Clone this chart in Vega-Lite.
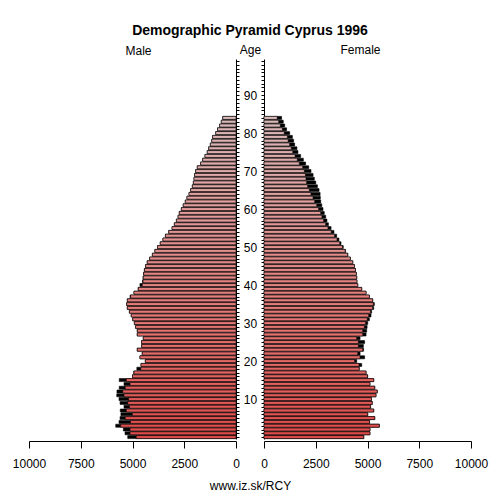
{
  "$schema": "https://vega.github.io/schema/vega-lite/v6.json",
  "background": "white",
  "padding": {"left": 12, "top": 23, "right": 16, "bottom": 2},
  "title": {
    "text": "Demographic Pyramid Cyprus 1996",
    "font": "Liberation Sans",
    "fontSize": 14,
    "fontWeight": "bold",
    "color": "black",
    "anchor": "middle",
    "offset": 6
  },
  "bounds": "flush",
  "spacing": 28,
  "data": {
    "values": [
      {"age": 0, "male": 5230, "female": 4820},
      {"age": 1, "male": 5360, "female": 5120},
      {"age": 2, "male": 5440, "female": 5120},
      {"age": 3, "male": 5810, "female": 5570},
      {"age": 4, "male": 5650, "female": 5100},
      {"age": 5, "male": 5600, "female": 5350},
      {"age": 6, "male": 5560, "female": 5010},
      {"age": 7, "male": 5590, "female": 5300},
      {"age": 8, "male": 5410, "female": 5150},
      {"age": 9, "male": 5600, "female": 5230},
      {"age": 10, "male": 5650, "female": 5190},
      {"age": 11, "male": 5760, "female": 5410},
      {"age": 12, "male": 5750, "female": 5470},
      {"age": 13, "male": 5640, "female": 5350},
      {"age": 14, "male": 5410, "female": 5120},
      {"age": 15, "male": 5640, "female": 5300},
      {"age": 16, "male": 5000, "female": 5010},
      {"age": 17, "male": 4940, "female": 4930},
      {"age": 18, "male": 4790, "female": 4600},
      {"age": 19, "male": 4590, "female": 4720},
      {"age": 20, "male": 4380, "female": 4480},
      {"age": 21, "male": 4640, "female": 4860},
      {"age": 22, "male": 4530, "female": 4640},
      {"age": 23, "male": 4770, "female": 4810},
      {"age": 24, "male": 4560, "female": 4800},
      {"age": 25, "male": 4560, "female": 4860},
      {"age": 26, "male": 4480, "female": 4640},
      {"age": 27, "male": 4770, "female": 4930},
      {"age": 28, "male": 4770, "female": 4960},
      {"age": 29, "male": 4850, "female": 4980},
      {"age": 30, "male": 4910, "female": 5010},
      {"age": 31, "male": 4990, "female": 5090},
      {"age": 32, "male": 5060, "female": 5170},
      {"age": 33, "male": 5150, "female": 5200},
      {"age": 34, "male": 5250, "female": 5300},
      {"age": 35, "male": 5280, "female": 5330},
      {"age": 36, "male": 5250, "female": 5250},
      {"age": 37, "male": 5120, "female": 5090},
      {"age": 38, "male": 4930, "female": 4930},
      {"age": 39, "male": 4730, "female": 4720},
      {"age": 40, "male": 4640, "female": 4530},
      {"age": 41, "male": 4520, "female": 4490},
      {"age": 42, "male": 4490, "female": 4480},
      {"age": 43, "male": 4470, "female": 4460},
      {"age": 44, "male": 4430, "female": 4420},
      {"age": 45, "male": 4370, "female": 4370},
      {"age": 46, "male": 4290, "female": 4290},
      {"age": 47, "male": 4170, "female": 4170},
      {"age": 48, "male": 4040, "female": 4050},
      {"age": 49, "male": 3920, "female": 3940},
      {"age": 50, "male": 3790, "female": 3830},
      {"age": 51, "male": 3660, "female": 3720},
      {"age": 52, "male": 3530, "female": 3620},
      {"age": 53, "male": 3410, "female": 3510},
      {"age": 54, "male": 3250, "female": 3380},
      {"age": 55, "male": 3090, "female": 3240},
      {"age": 56, "male": 2980, "female": 3110},
      {"age": 57, "male": 2880, "female": 3040},
      {"age": 58, "male": 2800, "female": 2980},
      {"age": 59, "male": 2740, "female": 2910},
      {"age": 60, "male": 2640, "female": 2850},
      {"age": 61, "male": 2550, "female": 2790},
      {"age": 62, "male": 2450, "female": 2740},
      {"age": 63, "male": 2370, "female": 2720},
      {"age": 64, "male": 2270, "female": 2710},
      {"age": 65, "male": 2190, "female": 2660},
      {"age": 66, "male": 2110, "female": 2580},
      {"age": 67, "male": 2060, "female": 2500},
      {"age": 68, "male": 2030, "female": 2430},
      {"age": 69, "male": 2000, "female": 2370},
      {"age": 70, "male": 1950, "female": 2270},
      {"age": 71, "male": 1870, "female": 2160},
      {"age": 72, "male": 1710, "female": 2010},
      {"age": 73, "male": 1610, "female": 1900},
      {"age": 74, "male": 1500, "female": 1770},
      {"age": 75, "male": 1390, "female": 1640},
      {"age": 76, "male": 1320, "female": 1590},
      {"age": 77, "male": 1240, "female": 1480},
      {"age": 78, "male": 1170, "female": 1430},
      {"age": 79, "male": 1130, "female": 1370},
      {"age": 80, "male": 980, "female": 1240},
      {"age": 81, "male": 890, "female": 1090},
      {"age": 82, "male": 790, "female": 1000},
      {"age": 83, "male": 710, "female": 930},
      {"age": 84, "male": 640, "female": 850}
    ]
  },
  "hconcat": [
    {
      "width": 207,
      "height": 380,
      "title": {"text": "Male", "fontSize": 12, "fontWeight": "normal", "anchor": "middle", "dx": 6, "offset": -14, "color": "black"},
      "encoding": {
        "y": {
          "field": "age",
          "type": "quantitative",
          "scale": {"domain": [-0.5, 99.5], "nice": false, "zero": false, "padding": 0},
          "axis": {
            "orient": "right",
            "values": [0,1,2,3,4,5,6,7,8,9,10,11,12,13,14,15,16,17,18,19,20,21,22,23,24,25,26,27,28,29,30,31,32,33,34,35,36,37,38,39,40,41,42,43,44,45,46,47,48,49,50,51,52,53,54,55,56,57,58,59,60,61,62,63,64,65,66,67,68,69,70,71,72,73,74,75,76,77,78,79,80,81,82,83,84,85,86,87,88,89,90,91,92,93,94,95,96,97,98,99],
            "labelExpr": "datum.value % 10 == 0 && datum.value > 0 ? datum.value : ''",
            "tickSize": 3,
            "labelAlign": "center",
            "labelPadding": 11,
            "labelOverlap": false,
            "labelFlush": false,
            "grid": false,
            "title": "Age",
            "titleAngle": 0,
            "titleX": 14,
            "titleY": -5.5,
            "titleAlign": "center",
            "titleBaseline": "alphabetic",
            "titleFontWeight": "normal",
            "titleFontSize": 12
          }
        }
      },
      "layer": [
        {
          "mark": {"type": "bar", "orient": "horizontal", "height": 3, "fill": "black", "stroke": "black", "strokeWidth": 0.6},
          "encoding": {
            "x": {"field": "male", "type": "quantitative", "scale": {"domain": [0, 10000], "reverse": true, "nice": false},
              "axis": {"values": [0, 2500, 5000, 7500, 10000], "format": "d", "tickSize": 7, "offset": 2, "grid": false, "labelFlush": false, "labelPadding": 10,
                "title": "www.iz.sk/RCY", "titleX": 221, "titleY": 48, "titleAlign": "center", "titleBaseline": "alphabetic", "titleFontWeight": "normal", "titleFontSize": 12}}
          }
        },
        {
          "transform": [{"filter": "datum.female <= datum.male"}],
          "mark": {"type": "bar", "orient": "horizontal", "height": 3, "stroke": "black", "strokeWidth": 0.6},
          "encoding": {
            "x": {"field": "female", "type": "quantitative", "scale": {"domain": [0, 10000], "reverse": true, "nice": false},
              "axis": {"values": [0, 2500, 5000, 7500, 10000], "format": "d", "tickSize": 7, "offset": 2, "grid": false, "labelFlush": false, "labelPadding": 10,
                "title": "www.iz.sk/RCY", "titleX": 221, "titleY": 48, "titleAlign": "center", "titleBaseline": "alphabetic", "titleFontWeight": "normal", "titleFontSize": 12}},
            "color": {"field": "age", "type": "quantitative", "scale": {"domain": [0, 84], "range": ["#e04a4a", "#dbbaba"]}, "legend": null}
          }
        },
        {
          "transform": [{"filter": "datum.female > datum.male"}],
          "mark": {"type": "bar", "orient": "horizontal", "height": 3, "stroke": "black", "strokeWidth": 0.6},
          "encoding": {
            "x": {"field": "male", "type": "quantitative", "scale": {"domain": [0, 10000], "reverse": true, "nice": false},
              "axis": {"values": [0, 2500, 5000, 7500, 10000], "format": "d", "tickSize": 7, "offset": 2, "grid": false, "labelFlush": false, "labelPadding": 10,
                "title": "www.iz.sk/RCY", "titleX": 221, "titleY": 48, "titleAlign": "center", "titleBaseline": "alphabetic", "titleFontWeight": "normal", "titleFontSize": 12}},
            "color": {"field": "age", "type": "quantitative", "scale": {"domain": [0, 84], "range": ["#e04a4a", "#dbbaba"]}, "legend": null}
          }
        }
      ]
    },
    {
      "width": 207,
      "height": 380,
      "title": {"text": "Female", "fontSize": 12, "fontWeight": "normal", "anchor": "middle", "dx": -7, "offset": 2.5, "color": "black"},
      "encoding": {
        "y": {
          "field": "age",
          "type": "quantitative",
          "scale": {"domain": [-0.5, 99.5], "nice": false, "zero": false, "padding": 0},
          "axis": {
            "orient": "left",
            "values": [0,1,2,3,4,5,6,7,8,9,10,11,12,13,14,15,16,17,18,19,20,21,22,23,24,25,26,27,28,29,30,31,32,33,34,35,36,37,38,39,40,41,42,43,44,45,46,47,48,49,50,51,52,53,54,55,56,57,58,59,60,61,62,63,64,65,66,67,68,69,70,71,72,73,74,75,76,77,78,79,80,81,82,83,84,85,86,87,88,89,90,91,92,93,94,95,96,97,98,99],
            "labels": false,
            "tickSize": 3,
            "grid": false,
            "title": null
          }
        }
      },
      "layer": [
        {
          "mark": {"type": "bar", "orient": "horizontal", "height": 3, "fill": "black", "stroke": "black", "strokeWidth": 0.6},
          "encoding": {
            "x": {"field": "female", "type": "quantitative", "scale": {"domain": [0, 10000], "nice": false},
              "axis": {"values": [0, 2500, 5000, 7500, 10000], "format": "d", "tickSize": 7, "offset": 2, "grid": false, "labelFlush": false, "labelPadding": 10, "title": null}}
          }
        },
        {
          "transform": [{"filter": "datum.male <= datum.female"}],
          "mark": {"type": "bar", "orient": "horizontal", "height": 3, "stroke": "black", "strokeWidth": 0.6},
          "encoding": {
            "x": {"field": "male", "type": "quantitative", "scale": {"domain": [0, 10000], "nice": false},
              "axis": {"values": [0, 2500, 5000, 7500, 10000], "format": "d", "tickSize": 7, "offset": 2, "grid": false, "labelFlush": false, "labelPadding": 10, "title": null}},
            "color": {"field": "age", "type": "quantitative", "scale": {"domain": [0, 84], "range": ["#e04a4a", "#dbbaba"]}, "legend": null}
          }
        },
        {
          "transform": [{"filter": "datum.male > datum.female"}],
          "mark": {"type": "bar", "orient": "horizontal", "height": 3, "stroke": "black", "strokeWidth": 0.6},
          "encoding": {
            "x": {"field": "female", "type": "quantitative", "scale": {"domain": [0, 10000], "nice": false},
              "axis": {"values": [0, 2500, 5000, 7500, 10000], "format": "d", "tickSize": 7, "offset": 2, "grid": false, "labelFlush": false, "labelPadding": 10, "title": null}},
            "color": {"field": "age", "type": "quantitative", "scale": {"domain": [0, 84], "range": ["#e04a4a", "#dbbaba"]}, "legend": null}
          }
        }
      ]
    }
  ],
  "config": {
    "font": "Liberation Sans",
    "view": {"stroke": null},
    "axis": {
      "domainColor": "black",
      "tickColor": "black",
      "labelColor": "black",
      "titleColor": "black",
      "labelFontSize": 12,
      "labelFont": "Liberation Sans",
      "titleFont": "Liberation Sans"
    },
    "title": {"font": "Liberation Sans"}
  }
}
